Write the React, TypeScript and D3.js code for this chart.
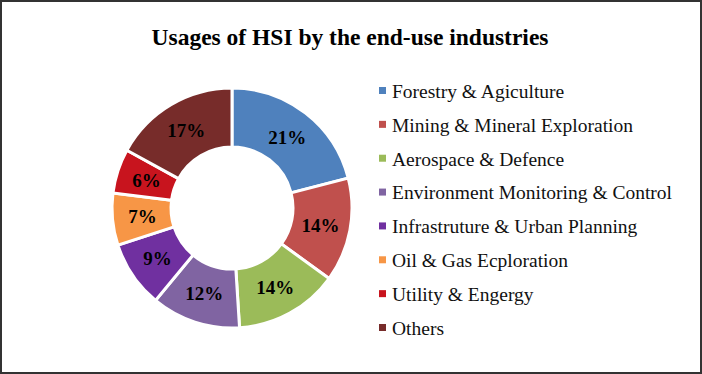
import React from "react";
import * as d3 from "d3";

const categories = [
  "Forestry & Agiculture",
  "Mining & Mineral Exploration",
  "Aerospace & Defence",
  "Environment Monitoring & Control",
  "Infrastruture & Urban Planning",
  "Oil & Gas Ecploration",
  "Utility & Engergy",
  "Others",
];
const values = [21, 14, 14, 12, 9, 7, 6, 17];
const colors = ["#4F81BD", "#C0504D", "#9BBB59", "#8064A2", "#7030A0", "#F79646", "#C8141E", "#772C2A"];
const title = "Usages of HSI by the end-use industries";

export default function App() {
  const W = 702, H = 374;
  const cx = 232, cy = 208, R = 120, r = 61;
  const pie = d3.pie<number>().sort(null).value((d) => d)(values);
  const arc = d3.arc<d3.PieArcDatum<number>>().innerRadius(r).outerRadius(R);
  const labelArc = d3.arc<d3.PieArcDatum<number>>().innerRadius(90).outerRadius(90);
  const total = d3.sum(values);
  const legendY = d3.scalePoint<number>().domain(d3.range(categories.length)).range([91, 328]);
  const font = "'Liberation Serif', 'Times New Roman', serif";
  return (
    <svg width={W} height={H} style={{ position: "absolute", left: 0, top: 0, display: "block" }}>
      <rect x={1} y={1} width={W - 2} height={H - 2} fill="#fff" stroke="#333" strokeWidth={2} />
      <text x={350} y={45} textAnchor="middle" fontFamily={font} fontWeight="bold" fontSize={23.5} fill="#000">
        {title}
      </text>
      <g transform={`translate(${cx},${cy})`}>
        {pie.map((p, i) => (
          <path key={i} d={arc(p) || ""} fill={colors[i]} stroke="#fff" strokeWidth={3} />
        ))}
        {pie.map((p, i) => {
          const [x, y] = labelArc.centroid(p);
          return (
            <text key={i} x={x} y={y} dy="0.35em" textAnchor="middle" fontFamily={font} fontWeight="bold" fontSize={19} fill="#000">
              {Math.round((values[i] / total) * 100)}%
            </text>
          );
        })}
      </g>
      {categories.map((c, i) => (
        <g key={i} transform={`translate(379,${legendY(i)})`}>
          <rect x={0} y={-4} width={7} height={7} fill={colors[i]} />
          <text x={13} y={0} dy="0.35em" fontFamily={font} fontSize={19.5} fill="#111">
            {c}
          </text>
        </g>
      ))}
    </svg>
  );
}
